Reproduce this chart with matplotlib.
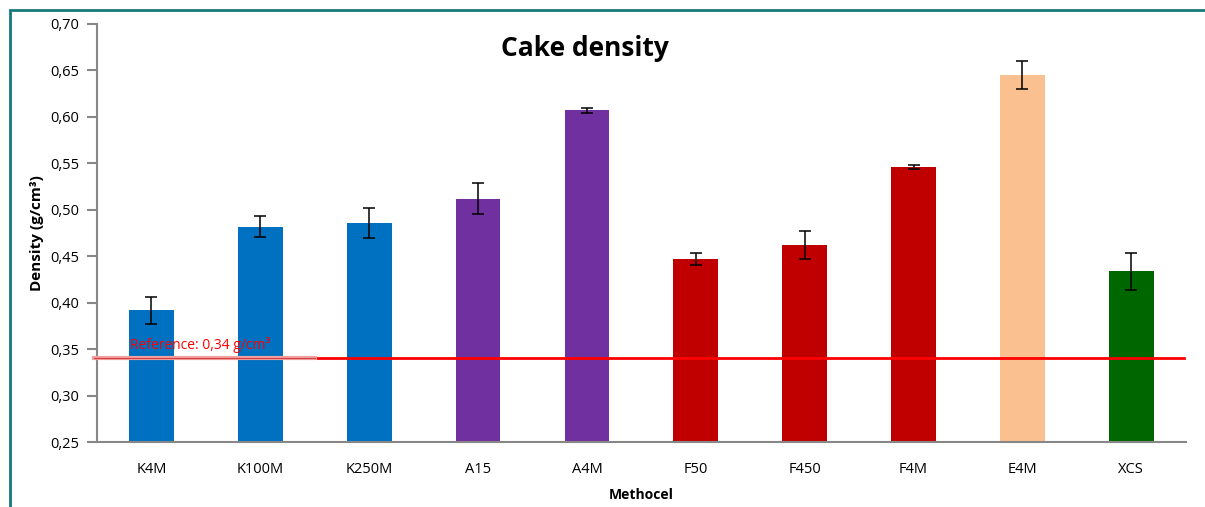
import matplotlib
matplotlib.use('Agg')
import matplotlib.pyplot as plt
from matplotlib.patches import Rectangle
from matplotlib.ticker import FuncFormatter, MultipleLocator

plt.rcParams['font.family'] = ['Open Sans', 'DejaVu Sans']

methocel = ['K4M', 'K100M', 'K250M', 'A15', 'A4M', 'F50', 'F450', 'F4M', 'E4M', 'XCS']
density = [0.392, 0.482, 0.486, 0.512, 0.607, 0.447, 0.462, 0.546, 0.645, 0.434]
density_err = [0.0145, 0.011, 0.016, 0.017, 0.0025, 0.006, 0.015, 0.002, 0.015, 0.020]
bar_colors = ['#0070C0', '#0070C0', '#0070C0', '#7030A0', '#7030A0',
              '#C00000', '#C00000', '#C00000', '#FAC090', '#006600']
reference = 0.34

fig = plt.figure(figsize=(12.05, 5.07), dpi=100)
ax = fig.add_axes([0.0805, 0.128, 0.9035, 0.8247])

x = range(len(methocel))
ax.bar(x, density, width=0.41, color=bar_colors, zorder=2)
ax.errorbar(x, density, yerr=density_err, fmt='none', ecolor='black',
            elinewidth=1.1, capsize=4.5, capthick=1.1, zorder=3)

# reference line, lighter under the label
ax.axhline(reference, color='#FF0000', lw=2, zorder=4, xmin=0.2, xmax=0.998)
ax.axhline(reference, color='#F4A0A0', lw=3, zorder=4, xmin=-0.003, xmax=0.2, clip_on=False)
ax.axhline(reference, color='#D04040', lw=0.8, zorder=4, xmin=-0.003, xmax=0.2, clip_on=False)
ax.text(-0.2, reference + 0.006, 'Reference: 0,34 g/cm³', color='#FF0000',
        fontsize=10, va='bottom', ha='left', zorder=5)

ax.set_xlim(-0.5, len(methocel) - 0.5)
ax.set_ylim(0.25, 0.70)
ax.yaxis.set_major_locator(MultipleLocator(0.05))
ax.yaxis.set_major_formatter(FuncFormatter(lambda v, p: f'{v:.2f}'.replace('.', ',')))
ax.set_xticks(list(x))
ax.set_xticklabels(methocel)

for s in ['top', 'right']:
    ax.spines[s].set_visible(False)
for s in ['left', 'bottom']:
    ax.spines[s].set_color('#878787')
    ax.spines[s].set_linewidth(1.5)
ax.tick_params(axis='y', direction='out', length=7, width=1.5, color='#878787',
               labelsize=10.5, pad=6)
ax.tick_params(axis='x', length=0, labelsize=10.5, pad=14)

ax.set_ylabel('Density (g/cm³)', fontsize=11, fontweight='bold', labelpad=4)
ax.set_xlabel('Methocel', fontsize=10, fontweight='bold', labelpad=8)
fig.text(585 / 1205, 1 - 48 / 507, 'Cake density', fontsize=19, fontweight='bold',
         ha='center', va='center')

# outer chart frame
fig.patches.append(Rectangle((10 / 1205, -0.1), 1.2, 1 - 10 / 507 + 0.1,
                             transform=fig.transFigure, fill=False,
                             edgecolor='#17787A', lw=2))

fig.savefig('out.png', dpi=100)
